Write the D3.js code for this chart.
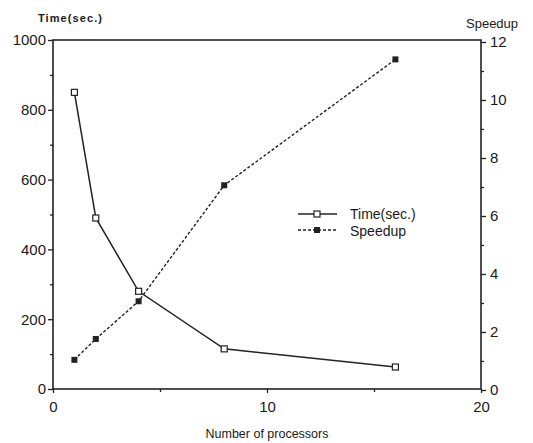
<!DOCTYPE html>
<html>
<head>
<meta charset="utf-8">
<script src="https://cdn.jsdelivr.net/npm/d3@7"></script>
<style>
  body { margin: 0; background: #fff; }
  svg { font-family: "Liberation Sans", Arial, sans-serif; }
  text { fill: #1a1a1a; }
</style>
</head>
<body>
<svg width="533" height="443"></svg>
<script>
// values
var processors = [1, 2, 4, 8, 16];
var timeSec = [850, 490, 280, 115, 63];
var speedup = [1.04, 1.76, 3.06, 7.06, 11.4];

var xTicks = [0, 10, 20];
var timeTicks = [0, 200, 400, 600, 800, 1000];
var speedTicks = [0, 2, 4, 6, 8, 10, 12];

var svg = d3.select('svg');

var padding = {t: 40, r: 52, b: 54, l: 53};
var svgWidth = +svg.attr('width');
var svgHeight = +svg.attr('height');

var x = d3.scaleLinear().domain([0, 20]).range([padding.l, svgWidth - padding.r]);
var yTime = d3.scaleLinear().domain([0, 1000]).range([svgHeight - padding.b, padding.t]);
var ySpeed = d3.scaleLinear().domain([0, 12]).range([svgHeight - padding.b + 1, padding.t + 2]);

var ink = '#222';

// frame
svg.append('rect')
    .attr('x', x(0)).attr('y', yTime(1000))
    .attr('width', x(20) - x(0)).attr('height', yTime(0) - yTime(1000))
    .attr('fill', 'none').attr('stroke', ink).attr('stroke-width', 1.6);

function styleAxis(g) {
    g.select('.domain').remove();
    g.selectAll('line').attr('stroke', ink).attr('stroke-width', 1.3);
    g.selectAll('text').style('font-size', '15px').attr('fill', '#1a1a1a');
}

// left axis
var leftAxis = d3.axisLeft(yTime).tickValues(timeTicks).tickSize(5).tickPadding(2)
    .tickFormat(d3.format('d'));
svg.append('g').attr('transform', 'translate(' + x(0) + ',0)').call(leftAxis).call(styleAxis);
svg.append('g').attr('transform', 'translate(' + x(0) + ',0)')
    .call(d3.axisLeft(yTime).tickValues(d3.range(100, 1000, 200)).tickSize(3).tickFormat(''))
    .call(styleAxis);

// right axis
var rightAxis = d3.axisRight(ySpeed).tickValues(speedTicks).tickSize(5).tickPadding(4);
svg.append('g').attr('transform', 'translate(' + x(20) + ',0)').call(rightAxis).call(styleAxis);
svg.append('g').attr('transform', 'translate(' + x(20) + ',0)')
    .call(d3.axisRight(ySpeed).tickValues(d3.range(1, 12, 2)).tickSize(3).tickFormat(''))
    .call(styleAxis);

// bottom axis
var bottomAxis = d3.axisBottom(x).tickValues(xTicks).tickSize(4).tickPadding(8);
svg.append('g').attr('transform', 'translate(0,' + yTime(0) + ')').call(bottomAxis).call(styleAxis);
svg.append('g').attr('transform', 'translate(0,' + yTime(0) + ')')
    .call(d3.axisBottom(x).tickValues([5, 15]).tickSize(3).tickFormat(''))
    .call(styleAxis);

// axis titles
svg.append('text').attr('x', 38).attr('y', 22)
    .style('font-size', '11px').style('font-weight', 'bold').attr('textLength', 64)
    .text('Time(sec.)');
svg.append('text').attr('x', 466).attr('y', 28)
    .style('font-size', '13px')
    .text('Speedup');
svg.append('text').attr('x', (x(0) + x(20)) / 2).attr('y', 438)
    .attr('text-anchor', 'middle').style('font-size', '12.5px')
    .text('Number of processors');

var timeData = processors.map(function(p, i) { return {p: p, v: timeSec[i]}; });
var speedData = processors.map(function(p, i) { return {p: p, v: speedup[i]}; });

// time series
svg.append('path').datum(timeData)
    .attr('fill', 'none').attr('stroke', ink).attr('stroke-width', 1.5)
    .attr('d', d3.line().x(function(d) { return x(d.p); }).y(function(d) { return yTime(d.v); }));
svg.selectAll('.tm').data(timeData).enter().append('rect')
    .attr('x', function(d) { return x(d.p) - 3; })
    .attr('y', function(d) { return yTime(d.v) - 3; })
    .attr('width', 6).attr('height', 6)
    .attr('fill', '#fff').attr('stroke', ink).attr('stroke-width', 1.2);

// speedup series
svg.append('path').datum(speedData)
    .attr('fill', 'none').attr('stroke', ink).attr('stroke-width', 1.4)
    .attr('stroke-dasharray', '3,2')
    .attr('d', d3.line().x(function(d) { return x(d.p); }).y(function(d) { return ySpeed(d.v); }));
svg.selectAll('.sp').data(speedData).enter().append('rect')
    .attr('x', function(d) { return x(d.p) - 3; })
    .attr('y', function(d) { return ySpeed(d.v) - 3; })
    .attr('width', 6).attr('height', 6)
    .attr('fill', ink);

// legend
var legend = svg.append('g');
legend.append('line').attr('x1', 298).attr('x2', 337).attr('y1', 214).attr('y2', 214)
    .attr('stroke', ink).attr('stroke-width', 1.5);
legend.append('rect').attr('x', 314).attr('y', 211).attr('width', 6).attr('height', 6)
    .attr('fill', '#fff').attr('stroke', ink).attr('stroke-width', 1.2);
legend.append('line').attr('x1', 298).attr('x2', 337).attr('y1', 230).attr('y2', 230)
    .attr('stroke', ink).attr('stroke-width', 1.4).attr('stroke-dasharray', '3,2');
legend.append('rect').attr('x', 314).attr('y', 227).attr('width', 6).attr('height', 6)
    .attr('fill', ink);
legend.append('text').attr('x', 350).attr('y', 219).style('font-size', '14px').text('Time(sec.)');
legend.append('text').attr('x', 350).attr('y', 236).style('font-size', '14px').text('Speedup');
</script>
</body>
</html>
